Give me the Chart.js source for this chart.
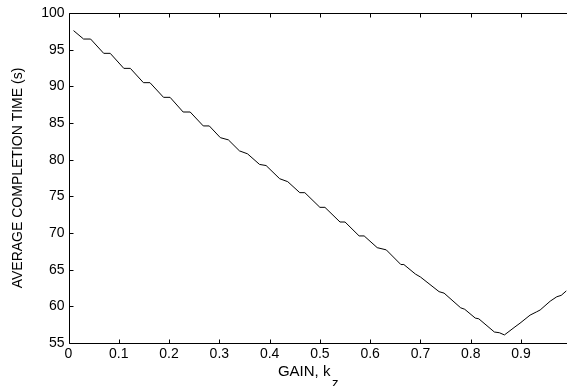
<!DOCTYPE html>
<html>
<head>
<meta charset="utf-8">
<script src="https://cdn.jsdelivr.net/npm/chart.js@4/dist/chart.umd.min.js"></script>
<style>
  html, body { margin: 0; padding: 0; overflow: hidden; background: #fff; }
  #wrap { position: relative; width: 580px; height: 386px; }
</style>
</head>
<body>
<div id="wrap"><canvas id="c"></canvas></div>
<script>
// Polyline vertices
const gain = [
  0.010,
  0.030, 0.044,
  0.070, 0.083,
  0.110, 0.123,
  0.149, 0.162,
  0.189, 0.202,
  0.228, 0.242,
  0.268, 0.280,
  0.302, 0.318,
  0.340, 0.356,
  0.380, 0.393,
  0.420, 0.436,
  0.460, 0.470,
  0.500, 0.510,
  0.540, 0.550,
  0.578, 0.588,
  0.614, 0.632,
  0.661, 0.667,
  0.690, 0.700,
  0.737, 0.747,
  0.780, 0.788,
  0.809, 0.816,
  0.847, 0.857,
  0.867,
  0.888, 0.898,
  0.918, 0.931, 0.938,
  0.958, 0.971, 0.980, 0.990
];
const completionTime = [
  97.6,
  96.45, 96.45,
  94.5, 94.5,
  92.45, 92.45,
  90.5, 90.5,
  88.5, 88.5,
  86.5, 86.5,
  84.6, 84.6,
  83.0, 82.7,
  81.2, 80.8,
  79.35, 79.2,
  77.4, 77.0,
  75.5, 75.5,
  73.5, 73.5,
  71.5, 71.5,
  69.6, 69.6,
  68.0, 67.7,
  65.7, 65.7,
  64.4, 64.0,
  62.0, 61.8,
  59.8, 59.6,
  58.4, 58.3,
  56.5, 56.4,
  56.1,
  57.2, 57.7,
  58.8, 59.25, 59.5,
  60.7, 61.3, 61.5, 62.1
];
const xTickValues = [0, 0.1, 0.2, 0.3, 0.4, 0.5, 0.6, 0.7, 0.8, 0.9, 1.0];
const yTickValues = [55, 60, 65, 70, 75, 80, 85, 90, 95, 100];
const xTitleMain = 'GAIN, k';
const xTitleSub = 'z';
const yTitle = 'AVERAGE COMPLETION TIME (s)';

const FONT = '"Liberation Sans", Arial, Helvetica, sans-serif';

const points = gain.map((g, i) => ({ x: g, y: completionTime[i] }));

const boxPlugin = {
  id: 'boxAndTicks',
  afterDraw(chart) {
    const ctx = chart.ctx;
    const a = chart.chartArea;
    const xs = chart.scales.x, ys = chart.scales.y;
    const L = 4;
    ctx.save();
    ctx.strokeStyle = '#000';
    ctx.lineWidth = 1;
    ctx.beginPath();
    const l = Math.round(a.left) + 0.5, r = Math.round(a.right) + 0.5;
    const t = Math.round(a.top) + 0.5, b = Math.round(a.bottom) + 0.5;
    ctx.rect(l, t, r - l, b - t);
    xTickValues.forEach(v => {
      const px = Math.round(xs.getPixelForValue(v)) + 0.5;
      ctx.moveTo(px, b); ctx.lineTo(px, b - L);
      ctx.moveTo(px, t); ctx.lineTo(px, t + L);
    });
    yTickValues.forEach(v => {
      const py = Math.round(ys.getPixelForValue(v)) + 0.5;
      ctx.moveTo(l, py); ctx.lineTo(l + L, py);
      ctx.moveTo(r, py); ctx.lineTo(r - L, py);
    });
    ctx.stroke();
    // x-axis title with subscript
    ctx.fillStyle = '#000';
    ctx.textBaseline = 'alphabetic';
    ctx.font = '15px ' + FONT;
    const wMain = ctx.measureText(xTitleMain).width;
    ctx.font = '13px ' + FONT;
    const wSub = ctx.measureText(xTitleSub).width;
    const cx = (a.left + a.right) / 2 - 12;
    const x0 = cx - (wMain + wSub + 1) / 2;
    ctx.font = '15px ' + FONT;
    ctx.fillText(xTitleMain, x0, a.bottom + 33);
    ctx.font = '13px ' + FONT;
    ctx.fillText(xTitleSub, x0 + wMain + 1.5, a.bottom + 44);
    ctx.restore();
  }
};

new Chart(document.getElementById('c'), {
  type: 'line',
  data: {
    datasets: [{
      data: points,
      borderColor: '#000',
      borderWidth: 1,
      pointRadius: 0,
      tension: 0,
      fill: false
    }]
  },
  options: {
    responsive: true,
    maintainAspectRatio: false,
    animation: false,
    devicePixelRatio: 1,
    layout: { padding: { top: 13, right: 8.7, bottom: 0, left: 0 } },
    plugins: { legend: { display: false }, tooltip: { enabled: false } },
    scales: {
      x: {
        type: 'linear',
        min: 0, max: 1,
        afterBuildTicks(s) { s.ticks = xTickValues.map(v => ({ value: v })); },
        afterFit(s) { s.height = 43; },
        grid: { display: false, drawTicks: false },
        border: { display: false },
        ticks: {
          color: '#000',
          padding: 3,
          maxRotation: 0,
          autoSkip: false,
          font: { family: FONT, size: 14 },
          callback: v => v === 0 ? '0' : (v > 0.95 ? '' : v.toFixed(1))
        }
      },
      y: {
        type: 'linear',
        min: 55, max: 100,
        afterBuildTicks(s) { s.ticks = yTickValues.map(v => ({ value: v })); },
        afterFit(s) { s.width = 68.5; },
        grid: { display: false, drawTicks: false },
        border: { display: false },
        ticks: {
          color: '#000',
          padding: 4,
          font: { family: FONT, size: 14 },
          callback: v => String(v)
        },
        title: {
          display: true,
          text: yTitle,
          color: '#000',
          font: { family: FONT, size: 14 },
          padding: { top: 10, bottom: 0 }
        }
      }
    }
  },
  plugins: [boxPlugin]
});
</script>
</body>
</html>
